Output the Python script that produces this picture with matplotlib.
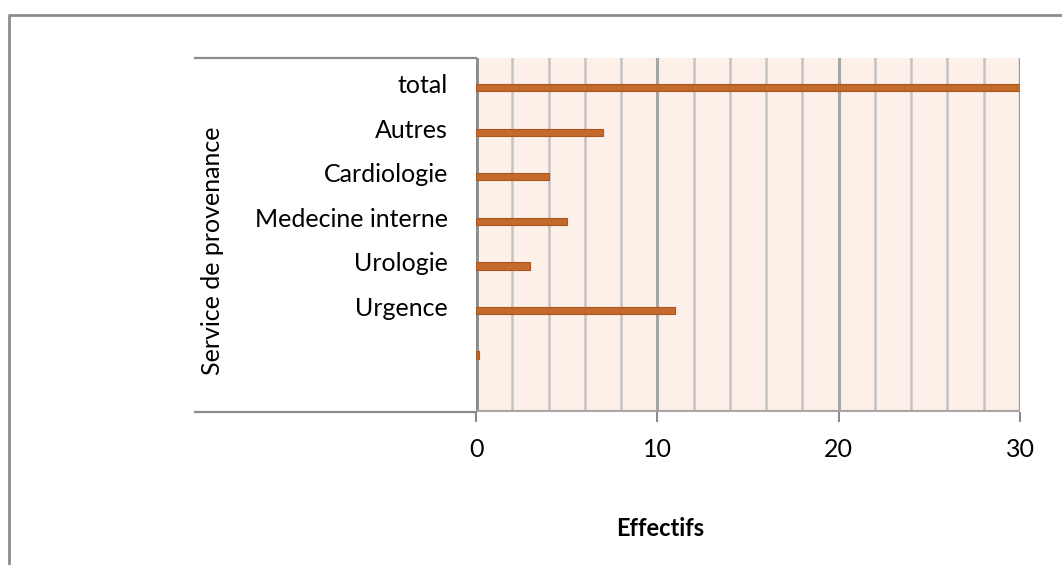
import matplotlib
matplotlib.use("Agg")
import matplotlib.pyplot as plt
import matplotlib.transforms as mtransforms
from matplotlib.lines import Line2D

# data (bottom to top)
categories = ["", "Urgence", "Urologie", "Medecine interne", "Cardiologie", "Autres", "total"]
effectifs = [0.15, 11, 3, 5, 4, 7, 30]
x_ticks = [0, 10, 20, 30]
grid_steps = list(range(0, 31, 2))

W, H = 1062, 565
plt.rcParams["font.family"] = ["Lato", "DejaVu Sans"]
FS = 18

fig = plt.figure(figsize=(W / 100, H / 100), dpi=100)
ax = fig.add_axes([476 / W, 1 - 412 / H, (1020 - 476) / W, (412 - 58) / H])
ax.set_facecolor("#FDF0E9")

pos = list(range(len(categories)))
ax.set_xlim(0, 30)
ax.set_ylim(-1.28, 6.67)

# back-wall gridlines
for g in grid_steps[1:-1]:
    major = g % 10 == 0
    ax.axvline(g, color="#A6A6A6" if major else "#C4C4C4",
               lw=2.2 if major else 1.8, zorder=1)

for s in ax.spines.values():
    s.set_visible(False)
# 3D-ish walls and floor
ax.axvline(0, color="#8C8C8C", lw=3.5, zorder=2)
ax.axvline(30, color="#A0A0A0", lw=2.5, zorder=2)
ax.axhline(-1.28, color="#A6A6A6", lw=3, zorder=2)

ax.barh(pos, effectifs, height=0.16, color="#C46A2C", edgecolor="#A9561F",
        linewidth=0.8, zorder=3)

ax.set_yticks(pos)
ax.set_yticklabels(categories, fontsize=FS)
ax.tick_params(axis="y", length=0, pad=20)
lift = mtransforms.ScaledTranslation(0, 4 / 100, fig.dpi_scale_trans)
for lab in ax.get_yticklabels():
    lab.set_transform(lab.get_transform() + lift)
ax.set_xticks(x_ticks)
ax.set_xticklabels([str(t) for t in x_ticks], fontsize=FS)
ax.tick_params(axis="x", length=7, color="#8C8C8C", width=1.5, pad=12)

# category-axis lines on the left
for yy in (58, 412):
    fig.add_artist(Line2D([195 / W, 476 / W], [1 - yy / H, 1 - yy / H],
                          color="#8C8C8C", lw=1.6))

# chart frame (top and left edges)
fig.add_artist(Line2D([9 / W, 9 / W, 1], [0, 1 - 15 / H, 1 - 15 / H],
                      color="#8C8C8C", lw=2))

fig.text(213 / W, 1 - 251 / H, "Service de provenance", rotation=90,
         ha="center", va="center", fontsize=FS)
fig.text(660 / W, 1 - 528 / H, "Effectifs", ha="center", va="center",
         fontsize=FS - 1, fontweight="bold")

fig.savefig("out.png", dpi=100)
